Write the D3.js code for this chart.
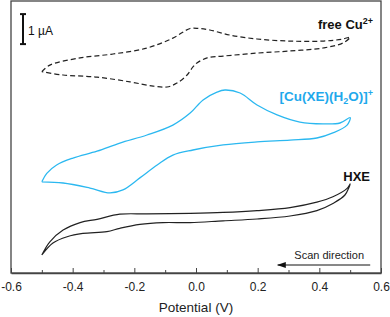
<!DOCTYPE html>
<html>
<head>
<meta charset="utf-8">
<title>Cyclic voltammograms</title>
<script src="https://cdn.jsdelivr.net/npm/d3@7"></script>
<style>
  body { margin: 0; background: #fff; }
  svg text { font-family: "Liberation Sans", Arial, sans-serif; }
</style>
</head>
<body>
<div id="chart"></div>
<script>
// potential (V), current (µA, curves offset for display)
var freeCuUpper = [[-0.5, 6.71], [-0.474, 6.93], [-0.376, 7.17], [-0.269, 7.3], [-0.159, 7.5],
  [-0.075, 7.83], [-0.019, 8.15], [0.01, 8.15], [0.045, 8.1], [0.11, 7.93], [0.198, 7.8],
  [0.305, 7.73], [0.412, 7.73], [0.477, 7.8], [0.5, 7.86]];
var freeCuLower = [[0.5, 7.86], [0.477, 7.67], [0.412, 7.5], [0.305, 7.4], [0.198, 7.33],
  [0.088, 7.23], [0.036, 7.17], [0.003, 7.0], [-0.01, 6.87], [-0.029, 6.6], [-0.062, 6.33],
  [-0.094, 6.2], [-0.139, 6.23], [-0.214, 6.37], [-0.321, 6.53], [-0.431, 6.6], [-0.5, 6.71]];

var cuXeUpper = [[-0.5, 3.04], [-0.484, 3.32], [-0.452, 3.6], [-0.399, 3.83], [-0.321, 4.06],
  [-0.247, 4.33], [-0.159, 4.6], [-0.075, 4.93], [-0.019, 5.33], [0.023, 5.77],
  [0.068, 6.03], [0.094, 6.1], [0.143, 6.0], [0.198, 5.6], [0.263, 5.27], [0.337, 5.03],
  [0.412, 4.97], [0.467, 5.0], [0.5, 5.18]];
var cuXeLower = [[0.5, 5.18], [0.49, 4.93], [0.444, 4.67], [0.392, 4.5], [0.305, 4.43],
  [0.198, 4.37], [0.088, 4.27], [-0.01, 4.1], [-0.075, 3.93], [-0.126, 3.6], [-0.182, 3.17],
  [-0.237, 2.77], [-0.279, 2.67], [-0.344, 2.83], [-0.431, 3.0], [-0.5, 3.04]];

var hxeUpper = [[-0.5, 0.6], [-0.474, 1.04], [-0.431, 1.43], [-0.376, 1.68], [-0.321, 1.79],
  [-0.247, 1.96], [-0.159, 1.97], [-0.019, 1.99], [0.088, 2.02], [0.198, 2.08], [0.305, 2.18],
  [0.392, 2.36], [0.444, 2.54], [0.49, 2.82], [0.5, 2.97]];
var hxeLower = [[0.5, 2.97], [0.483, 2.6], [0.444, 2.32], [0.392, 2.08], [0.305, 1.9],
  [0.198, 1.8], [0.088, 1.74], [-0.019, 1.68], [-0.107, 1.68], [-0.182, 1.62], [-0.247, 1.49],
  [-0.289, 1.38], [-0.367, 1.32], [-0.418, 1.21], [-0.464, 1.0], [-0.5, 0.6]];

var majorTicks = [-0.6, -0.4, -0.2, 0.0, 0.2, 0.4, 0.6];
var minorTicks = [-0.5, -0.3, -0.1, 0.1, 0.3, 0.5];

var W = 390, H = 317;
var margin = { top: 1, right: 9, bottom: 44, left: 11 };
var width = W - margin.left - margin.right;
var height = H - margin.top - margin.bottom;

var svg = d3.select("#chart").append("svg")
    .attr("width", W)
    .attr("height", H)
  .append("g")
    .attr("transform", "translate(" + margin.left + "," + margin.top + ")");

var x = d3.scaleLinear().domain([-0.6, 0.6]).range([0, width]);
var y = d3.scaleLinear().domain([0, height / 30]).range([height, 0]); // 30 px per µA

var line = d3.line()
    .x(function (d) { return x(d[0]); })
    .y(function (d) { return y(d[1]); })
    .curve(d3.curveCatmullRom.alpha(0.5));

// frame
svg.append("rect")
    .attr("width", width).attr("height", height)
    .attr("fill", "none").attr("stroke", "#444").attr("stroke-width", 1.3);

// x axis, ticks pointing inward
var xAxis = svg.append("g")
    .attr("transform", "translate(0," + height + ")")
    .call(d3.axisBottom(x).tickValues(majorTicks).tickSizeInner(-5).tickSizeOuter(0)
      .tickPadding(9).tickFormat(d3.format(".1f")));
xAxis.select(".domain").attr("stroke", "#444").attr("stroke-width", 1.3);
xAxis.selectAll(".tick line").attr("stroke", "#444");
xAxis.selectAll("text").attr("font-size", 12).attr("fill", "#222");
xAxis.selectAll("text").text(function (d) { return d3.format(".1f")(d).replace("−", "-"); });

svg.append("g")
    .attr("transform", "translate(0," + height + ")")
    .call(d3.axisBottom(x).tickValues(minorTicks).tickSizeInner(-3).tickSizeOuter(0).tickFormat(""))
    .call(function (g) { g.select(".domain").remove(); g.selectAll("line").attr("stroke", "#444"); });

svg.append("text")
    .attr("x", x(0)).attr("y", height + 39)
    .attr("text-anchor", "middle").attr("font-size", 13.5).attr("fill", "#222")
    .text("Potential (V)");

// curves
svg.append("path").datum(freeCuUpper.concat(freeCuLower.slice(1)))
    .attr("d", line).attr("fill", "none").attr("stroke", "#222")
    .attr("stroke-width", 1.2).attr("stroke-dasharray", "5,3");
svg.append("path").datum(cuXeUpper.concat(cuXeLower.slice(1)))
    .attr("d", line).attr("fill", "none").attr("stroke", "#2bb8f0").attr("stroke-width", 1.3);
svg.append("path").datum(hxeUpper.concat(hxeLower.slice(1)))
    .attr("d", line).attr("fill", "none").attr("stroke", "#222").attr("stroke-width", 1.2);

// labels
var lab1 = svg.append("text").attr("x", 362).attr("y", 28)
    .attr("text-anchor", "end").attr("font-size", 13).attr("font-weight", "bold").attr("fill", "#111");
lab1.append("tspan").text("free Cu");
lab1.append("tspan").attr("dy", -5).attr("font-size", 9).text("2+");

var lab2 = svg.append("text").attr("x", 362).attr("y", 100)
    .attr("text-anchor", "end").attr("font-size", 13.5).attr("font-weight", "bold").attr("fill", "#1fa9ec");
lab2.append("tspan").text("[Cu(XE)(H");
lab2.append("tspan").attr("dy", 3).attr("font-size", 9).text("2");
lab2.append("tspan").attr("dy", -3).text("O)]");
lab2.append("tspan").attr("dy", -5).attr("font-size", 9).text("+");

svg.append("text").attr("x", 359).attr("y", 180)
    .attr("text-anchor", "end").attr("font-size", 13).attr("font-weight", "bold").attr("fill", "#111")
    .text("HXE");

// scale bar, 1 µA
var sbX = x(-0.561);
var sb = svg.append("g").attr("stroke", "#111").attr("stroke-width", 2);
sb.append("line").attr("x1", sbX).attr("x2", sbX).attr("y1", y(8.63)).attr("y2", y(7.63));
sb.append("line").attr("x1", sbX - 3).attr("x2", sbX + 3).attr("y1", y(8.63)).attr("y2", y(8.63));
sb.append("line").attr("x1", sbX - 3).attr("x2", sbX + 3).attr("y1", y(7.63)).attr("y2", y(7.63));
svg.append("text").attr("x", sbX + 5).attr("y", 34)
    .attr("font-size", 12).attr("fill", "#111").text("1 µA");

// scan direction arrow
svg.append("defs").append("marker")
    .attr("id", "arr").attr("viewBox", "0 0 10 10").attr("refX", 9).attr("refY", 5)
    .attr("markerWidth", 9).attr("markerHeight", 9).attr("markerUnits", "userSpaceOnUse")
    .attr("orient", "auto")
  .append("path").attr("d", "M10,5 L0,1.8 L0,8.2 Z").attr("fill", "#111");
svg.append("line")
    .attr("x1", x(0.565)).attr("x2", x(0.265)).attr("y1", height - 8).attr("y2", height - 8)
    .attr("stroke", "#111").attr("stroke-width", 1).attr("marker-end", "url(#arr)");
svg.append("text").attr("x", x(0.545)).attr("y", height - 14)
    .attr("text-anchor", "end").attr("font-size", 11).attr("fill", "#222").text("Scan direction");
</script>
</body>
</html>
